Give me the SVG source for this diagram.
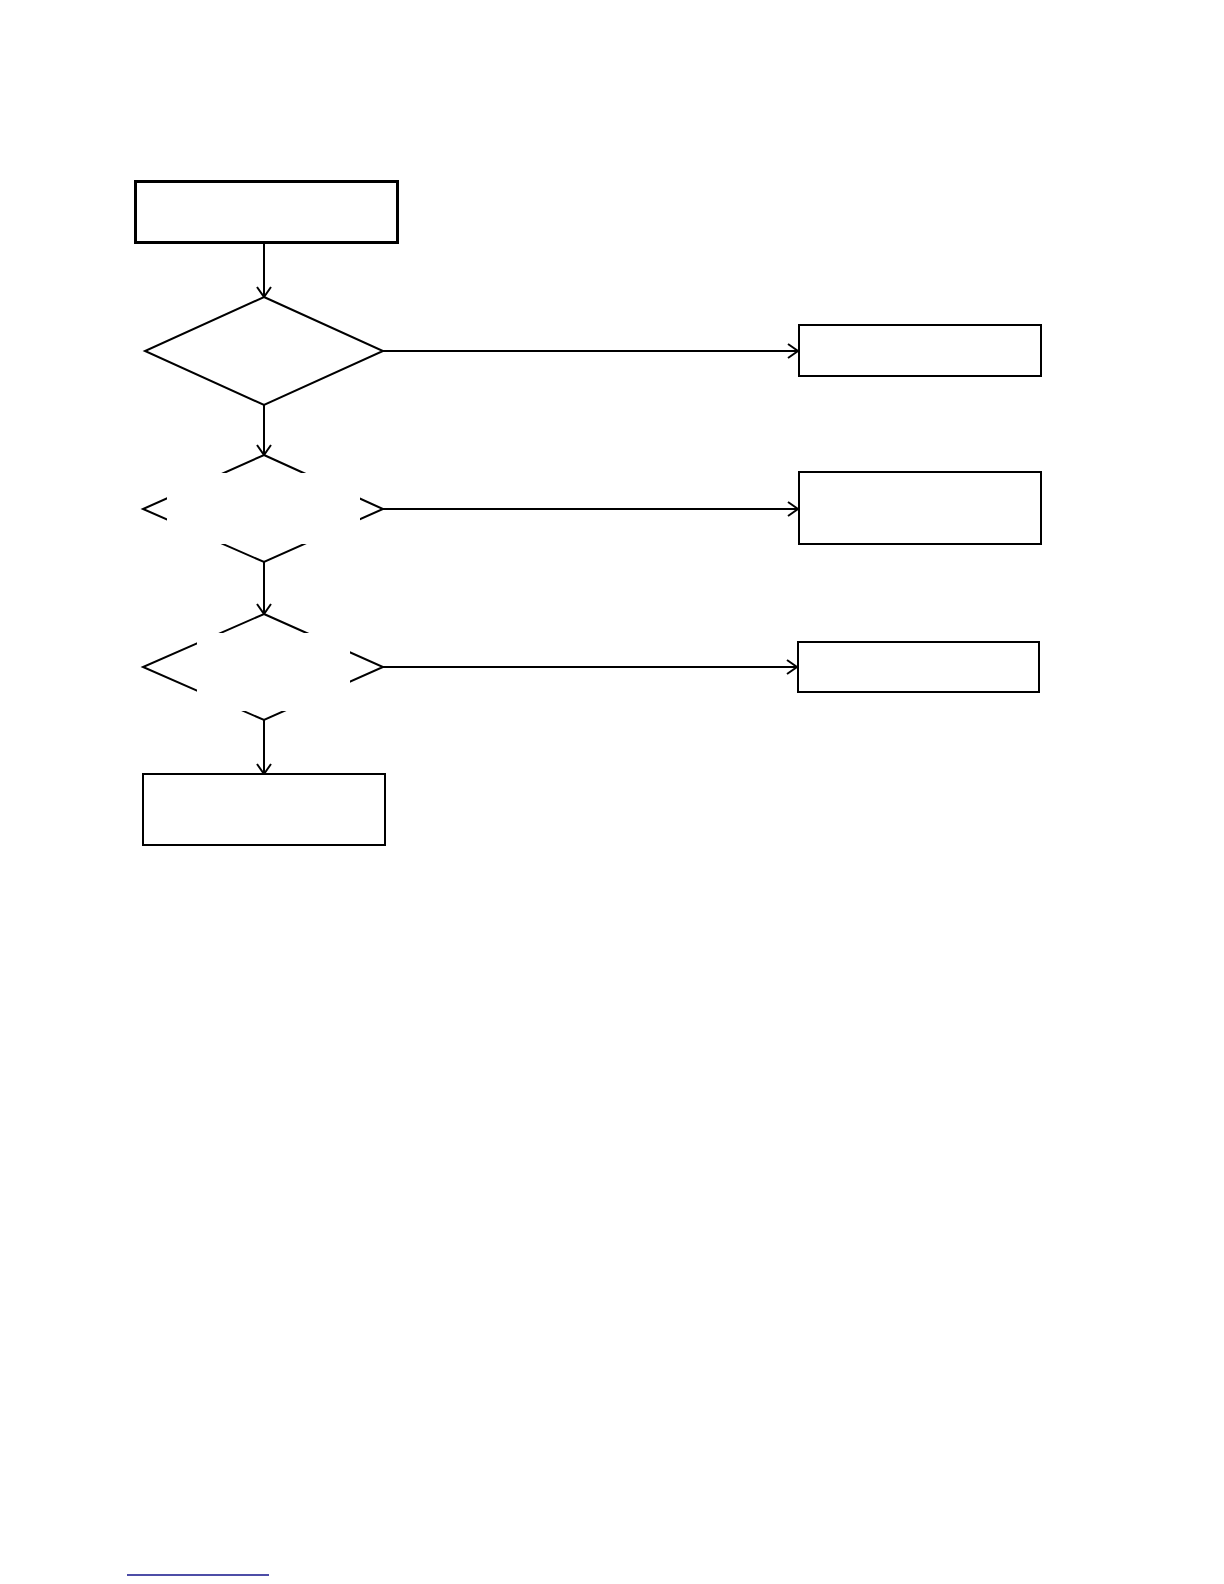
<svg xmlns="http://www.w3.org/2000/svg" width="1224" height="1584" viewBox="0 0 1224 1584">
<style>
.shape{fill:#fff;stroke:#000;stroke-width:2}
.thick{stroke-width:3}
.mask{fill:#fff;stroke:none}
.conn{fill:none;stroke:#000;stroke-width:2}
</style>
<defs>
<marker id="arr" markerUnits="userSpaceOnUse" viewBox="0 0 14 16" markerWidth="14" markerHeight="16" refX="12" refY="8" orient="auto">
<path d="M2,1 L12,8 L2,15" fill="none" stroke="#000" stroke-width="2"/>
</marker>
</defs>
<rect width="1224" height="1584" fill="#fff"/>
<g id="connectors">
<line class="conn" x1="264" y1="243" x2="264" y2="297" marker-end="url(#arr)"/>
<line class="conn" x1="264" y1="405" x2="264" y2="455" marker-end="url(#arr)"/>
<line class="conn" x1="264" y1="562" x2="264" y2="614" marker-end="url(#arr)"/>
<line class="conn" x1="264" y1="720" x2="264" y2="774" marker-end="url(#arr)"/>
<line class="conn" x1="383" y1="351" x2="798" y2="351" marker-end="url(#arr)"/>
<line class="conn" x1="383" y1="509" x2="798" y2="509" marker-end="url(#arr)"/>
<line class="conn" x1="383" y1="667" x2="797" y2="667" marker-end="url(#arr)"/>
</g>
<g id="start">
<rect class="shape thick" x="135.5" y="181.5" width="262" height="61"/>
</g>
<g id="decision1">
<polygon class="shape" points="264,297 383,351 264,405 145,351"/>
</g>
<g id="decision2">
<polygon class="shape" points="264,455 383,509 264,562 143,509"/>
<rect class="mask" x="167" y="473" width="193" height="71"/>
</g>
<g id="decision3">
<polygon class="shape" points="264,614 383,667 264,720 143,667"/>
<rect class="mask" x="197" y="633" width="153" height="78"/>
</g>
<g id="result1">
<rect class="shape" x="799" y="325" width="242" height="51"/>
</g>
<g id="result2">
<rect class="shape" x="799" y="472" width="242" height="72"/>
</g>
<g id="result3">
<rect class="shape" x="798" y="642" width="241" height="50"/>
</g>
<g id="end">
<rect class="shape" x="143" y="774" width="242" height="71"/>
</g>
<line x1="127" y1="1575" x2="269" y2="1575" stroke="#12128a" stroke-width="1.5"/>
</svg>
